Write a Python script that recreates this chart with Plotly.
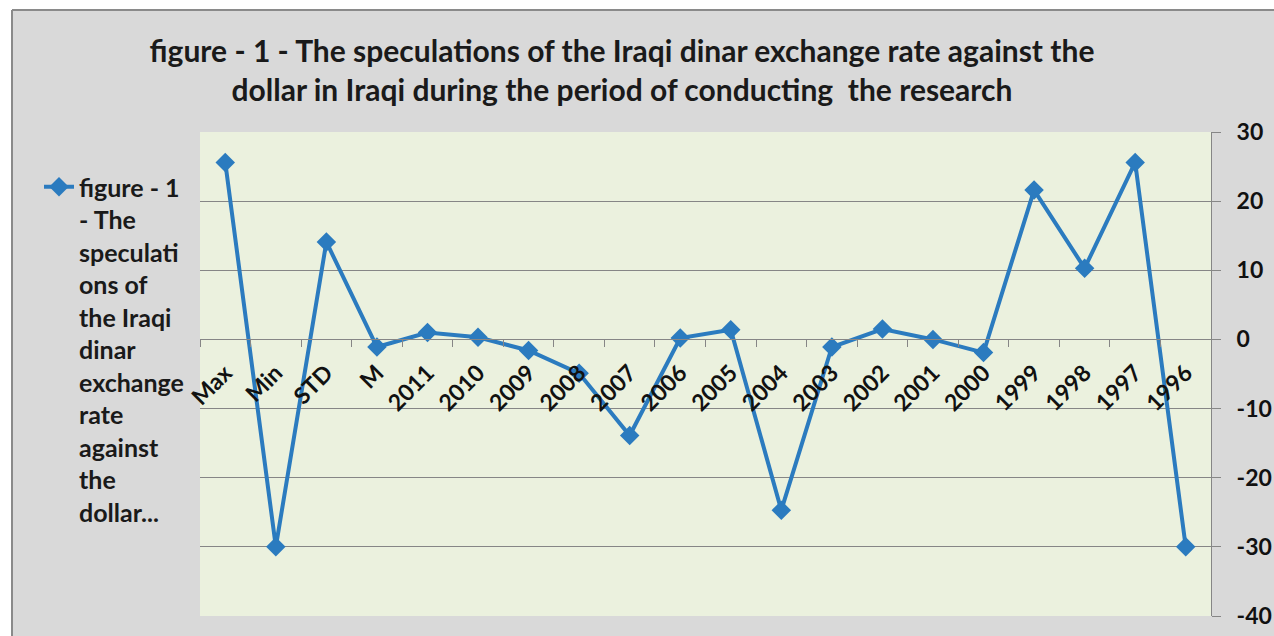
import plotly.graph_objects as go

categories = ["Max", "Min", "STD", "M", "2011", "2010", "2009", "2008", "2007", "2006",
              "2005", "2004", "2003", "2002", "2001", "2000", "1999", "1998", "1997", "1996"]
values = [25.6, -30.0, 14.1, -1.1, 1.0, 0.3, -1.6, -4.9, -13.9, 0.2,
          1.4, -24.7, -1.1, 1.5, 0.0, -1.9, 21.6, 10.3, 25.6, -30.0]
y_ticks = [30, 20, 10, 0, -10, -20, -30, -40]
series_name = ("figure - 1<br>- The<br>speculati<br>ons of<br>the Iraqi<br>dinar<br>exchange"
               "<br>rate<br>against<br>the<br>dollar...")
title_text = ("figure - 1 - The speculations of the Iraqi dinar exchange rate against the"
              "<br>dollar in Iraqi during the period of conducting  the research")

W, H = 1274, 636
ML, MR, MT, MB = 200, 63, 132, 20
PW, PH = W - ML - MR, H - MT - MB
YMIN, YMAX = -40, 30

def px_x(px):
    return (px - ML) / PW

def px_y(py):
    return 1 - (py - MT) / PH

FONT = "Lato, 'Open Sans', sans-serif"
BLUE = "#2b7bbf"

fig = go.Figure()
fig.add_trace(go.Scatter(
    x=categories, y=values, mode="lines+markers", name=series_name,
    line=dict(color=BLUE, width=4),
    marker=dict(symbol="diamond", size=15, color=BLUE),
))

zero_pos = (0 - YMIN) / (YMAX - YMIN)

fig.update_layout(
    width=W, height=H,
    margin=dict(l=ML, r=MR, t=MT, b=MB, autoexpand=False),
    paper_bgcolor="#d9d9d9",
    plot_bgcolor="#ebf1de",
    showlegend=True,
    title=dict(text=title_text, x=622 / W, xanchor="center", xref="container",
               y=1 - 62 / H, yanchor="middle", yref="container",
               font=dict(family=FONT, size=30, color="#1a1a1a", weight="bold")),
    legend=dict(x=px_x(39), xanchor="left", y=px_y(164), yanchor="top",
                bgcolor="rgba(0,0,0,0)", valign="top",
                font=dict(family=FONT, size=25, color="#1a1a1a", weight="bold")),
    xaxis=dict(
        type="category", anchor="free", position=zero_pos, automargin=False,
        showgrid=False, showline=True, linecolor="#868686", linewidth=1,
        ticks="outside", tickson="boundaries", ticklen=7, tickcolor="#868686",
        tickangle=-45, ticklabelstandoff=10,
        tickfont=dict(family=FONT, size=23, color="#111111", weight="bold"),
        range=[-0.5, len(categories) - 0.5],
        zeroline=False,
    ),
    yaxis=dict(
        side="right", range=[YMIN, YMAX], automargin=False,
        tickvals=y_ticks, ticktext=[str(v) for v in y_ticks],
        showgrid=True, gridcolor="#868686", gridwidth=1,
        showline=True, linecolor="#868686", linewidth=1,
        ticks="outside", ticklen=9, tickcolor="#868686",
        ticklabelstandoff=11,
        zeroline=False,
        tickfont=dict(family=FONT, size=23, color="#111111", weight="bold"),
    ),
    shapes=[
        dict(type="rect", xref="paper", yref="paper",
             x0=px_x(-5), x1=px_x(12), y0=px_y(H + 5), y1=px_y(-5),
             fillcolor="white", line=dict(width=0), layer="below"),
        dict(type="rect", xref="paper", yref="paper",
             x0=px_x(-5), x1=px_x(W + 5), y0=px_y(10), y1=px_y(-5),
             fillcolor="white", line=dict(width=0), layer="below"),
        dict(type="line", xref="paper", yref="paper",
             x0=px_x(12), x1=px_x(12), y0=px_y(H + 5), y1=px_y(10),
             line=dict(color="#8a8a8a", width=2)),
        dict(type="line", xref="paper", yref="paper",
             x0=px_x(12), x1=px_x(W + 5), y0=px_y(10), y1=px_y(10),
             line=dict(color="#8a8a8a", width=2)),
    ],
)

fig.write_html("out.html", config={"displayModeBar": False},
               post_script="document.body.style.margin='0';")
